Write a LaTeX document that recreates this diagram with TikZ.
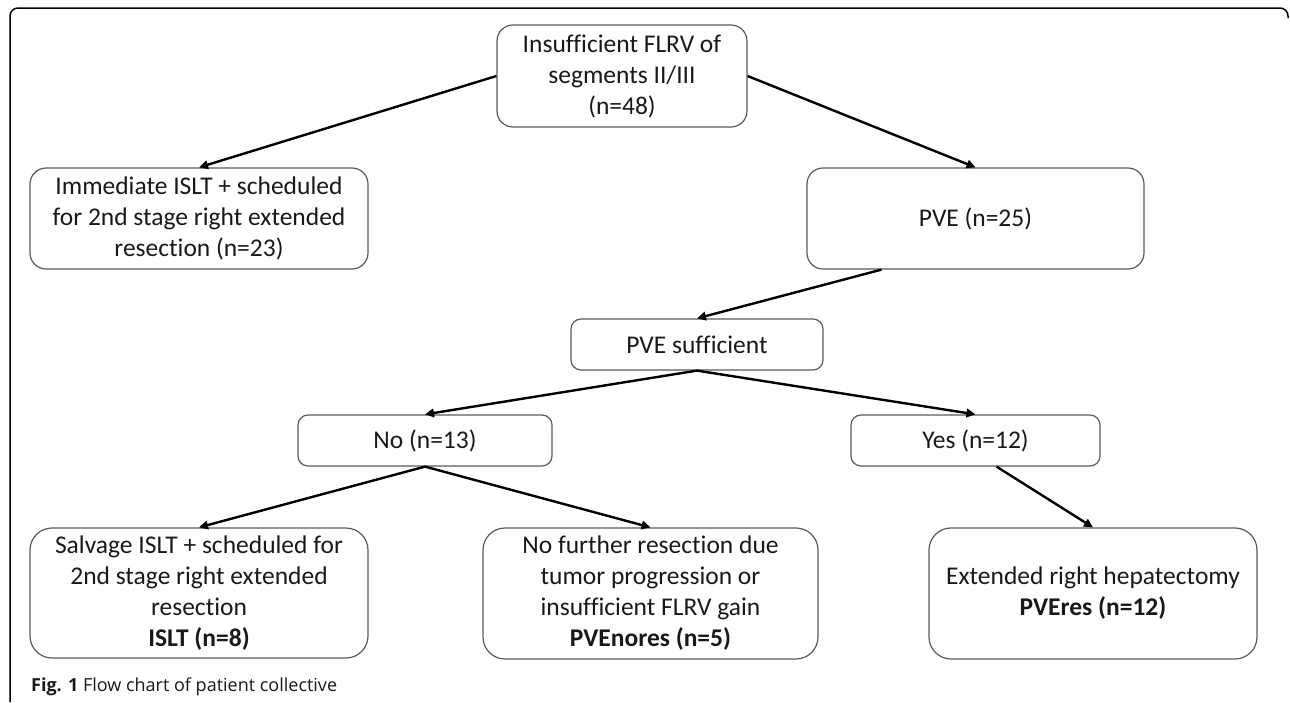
\documentclass[tikz,border=0pt]{standalone}
\usepackage{fontspec}
\setmainfont{Carlito}[Ligatures=NoCommon]
\newfontfamily\captionfont{Open Sans}
\usetikzlibrary{arrows.meta}

\definecolor{boxcolor}{RGB}{90,90,90}
\definecolor{labelcolor}{RGB}{25,25,25}

\tikzset{
  flowbox/.style={draw=boxcolor, line width=1.2pt, rounded corners=#1, align=center,
    inner sep=0pt, text=labelcolor, font=\fontsize{25.5}{31}\selectfont},
  flowbox/.default=12pt,
  flowarrow/.style={line width=2.4pt, -{Triangle[length=9pt,width=8.5pt]}}
}

\begin{document}
\begin{tikzpicture}[x=1pt, y=-1pt]
  \useasboundingbox (0,0) rectangle (1290,702);

  % Outer frame
  \draw[line width=1.5pt, rounded corners=8pt] (10,702) -- (10,8) -- (1288,8) -- (1288,18);

  % First level
  \node[flowbox=16pt, minimum width=250pt, minimum height=102pt] (insuff) at (622,76)
    {Insufficient FLRV of\\segments II/III\\(n=48)};
  \node[flowbox=16pt, minimum width=338pt, minimum height=101pt] (immed) at (199,218.5)
    {Immediate ISLT + scheduled\\for 2nd stage right extended\\resection (n=23)};
  \node[flowbox=16pt, minimum width=337pt, minimum height=101pt] (pve) at (975.5,218.5)
    {PVE (n=25)};

  % Second level
  \node[flowbox=10pt, minimum width=252pt, minimum height=51pt] (suff) at (697,344.5)
    {PVE sufficient};
  \node[flowbox=10pt, minimum width=254pt, minimum height=51pt] (no) at (425,440.5)
    {No (n=13)};
  \node[flowbox=10pt, minimum width=249pt, minimum height=51pt] (yes) at (975.5,440.5)
    {Yes (n=12)};

  % Outcomes
  \node[flowbox=22pt, minimum width=338pt, minimum height=130pt] (salvage) at (199,593)
    {Salvage ISLT + scheduled for\\2nd stage right extended\\resection\\\textbf{ISLT (n=8)}};
  \node[flowbox=22pt, minimum width=335pt, minimum height=131pt] (nores) at (650.5,593.5)
    {No further resection due\\tumor progression or\\insufficient FLRV gain\\\textbf{PVEnores (n=5)}};
  \node[flowbox=22pt, minimum width=328pt, minimum height=131pt] (extres) at (1093,593.5)
    {Extended right hepatectomy\\\textbf{PVEres (n=12)}};

  % Connectors
  \draw[flowarrow] (insuff.west) -- (immed.north);
  \draw[flowarrow] (insuff.east) -- (pve.north);
  \draw[flowarrow] ([xshift=-94pt]pve.south) -- (suff.north);
  \draw[flowarrow] (suff.south) -- (no.north);
  \draw[flowarrow] (suff.south) -- (yes.north);
  \draw[flowarrow] (no.south) -- (salvage.north);
  \draw[flowarrow] (no.south) -- (nores.north);
  \draw[flowarrow] ([xshift=21pt]yes.south) -- (extres.north);

  % Caption
  \node[anchor=west, inner sep=0pt, text=labelcolor, font=\captionfont\fontsize{18}{21}\selectfont] (caption) at (31,687)
    {\textbf{Fig. 1} Flow chart of patient collective};
\end{tikzpicture}
\end{document}
